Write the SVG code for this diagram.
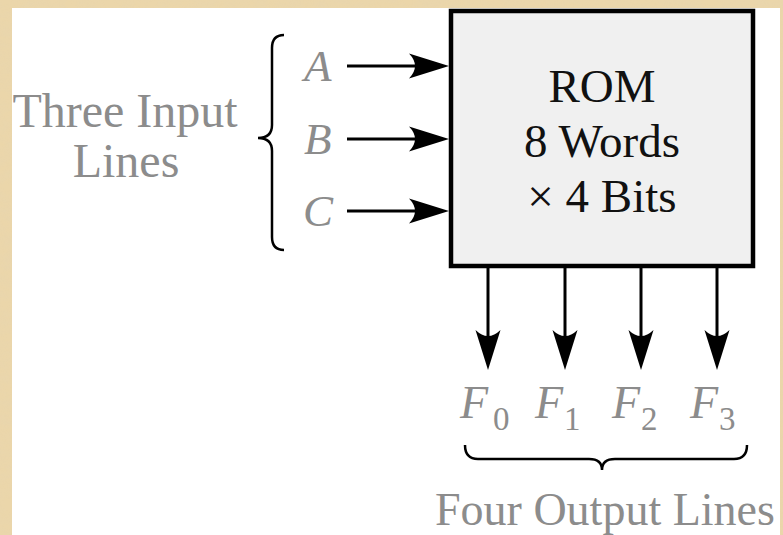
<svg xmlns="http://www.w3.org/2000/svg" width="783" height="535" viewBox="0 0 783 535">
  <defs>
    <filter id="parch" x="0" y="0" width="100%" height="100%">
      <feTurbulence type="fractalNoise" baseFrequency="0.06 0.12" numOctaves="3" seed="4" result="n"/>
      <feColorMatrix in="n" type="matrix" values="0 0 0 0 0.78  0 0 0 0 0.66  0 0 0 0 0.45  0 0 0 0.9 -0.25"/>
    </filter>
    <marker id="arr" viewBox="0 -13 40 26" markerWidth="40" markerHeight="26" refX="10" refY="0" orient="auto" markerUnits="userSpaceOnUse">
      <path d="M40,0 L0,-12.5 Q12,0 0,12.5 Z" fill="#000"/>
    </marker>
    <style>
      .lbl { font-family: "Liberation Serif", "Times New Roman", serif; fill: #8c8c8c; }
      .var { font-family: "Liberation Serif", "Times New Roman", serif; fill: #8c8c8c; font-style: italic; }
      .rom { font-family: "Liberation Serif", "Times New Roman", serif; fill: #111; font-size: 47px; text-anchor: middle; }
      .wire { stroke: #000; stroke-width: 3; fill: none; marker-end: url(#arr); }
      .brace { stroke: #000; stroke-width: 2.5; fill: none; }
      .sub { font-style: normal; font-size: 33px; }
    </style>
  </defs>

  <!-- background -->
  <rect x="0" y="0" width="783" height="535" fill="#ebd6aa"/>
  <rect x="0" y="0" width="783" height="535" filter="url(#parch)" opacity="0.6"/>
  <rect x="12" y="8" width="768" height="527" fill="#ffffff"/>

  <!-- ROM node -->
  <g id="rom">
    <rect x="451" y="11" width="302" height="255" fill="#f0f0f0" stroke="#000" stroke-width="4.5"/>
    <text class="rom" x="602" y="102">ROM</text>
    <text class="rom" x="602" y="157">8 Words</text>
    <text class="rom" x="602" y="212">× 4 Bits</text>
  </g>

  <!-- input labels -->
  <g id="input-label">
    <text class="lbl" x="125" y="127" font-size="48" text-anchor="middle">Three Input</text>
    <text class="lbl" x="126" y="177" font-size="48" text-anchor="middle">Lines</text>
  </g>
  <g id="input-A"><text class="var" x="304" y="81" font-size="45">A</text></g>
  <g id="input-B"><text class="var" x="304" y="154" font-size="45">B</text></g>
  <g id="input-C"><text class="var" x="303" y="226" font-size="45">C</text></g>

  <!-- output labels -->
  <g id="output-F0"><text class="var" x="460" y="418" font-size="46">F<tspan class="sub" dx="5" dy="12">0</tspan></text></g>
  <g id="output-F1"><text class="var" x="535" y="418" font-size="46">F<tspan class="sub" dx="1" dy="12">1</tspan></text></g>
  <g id="output-F2"><text class="var" x="612" y="418" font-size="46">F<tspan class="sub" dx="1" dy="12">2</tspan></text></g>
  <g id="output-F3"><text class="var" x="690" y="418" font-size="46">F<tspan class="sub" dx="1" dy="12">3</tspan></text></g>
  <g id="output-label">
    <text class="lbl" x="435" y="525" font-size="46">Four Output Lines</text>
  </g>

  <!-- connectors -->
  <g id="connectors">
    <line class="wire" x1="347" y1="66" x2="419" y2="66"/>
    <line class="wire" x1="347" y1="139" x2="419" y2="139"/>
    <line class="wire" x1="347" y1="211" x2="419" y2="211"/>
    <line class="wire" x1="488" y1="268" x2="488" y2="340"/>
    <line class="wire" x1="565" y1="268" x2="565" y2="340"/>
    <line class="wire" x1="641" y1="268" x2="641" y2="340"/>
    <line class="wire" x1="717" y1="268" x2="717" y2="340"/>
    <path class="brace" d="M284,35 Q272,35 272,48 L272,125 Q272,138 258,138 Q272,138 272,151 L272,237 Q272,250 284,250"/>
    <path class="brace" d="M465,445 Q465,459 478,459 L589,459 Q602,459 602,470 Q602,459 615,459 L734,459 Q747,459 747,445"/>
  </g>
</svg>
